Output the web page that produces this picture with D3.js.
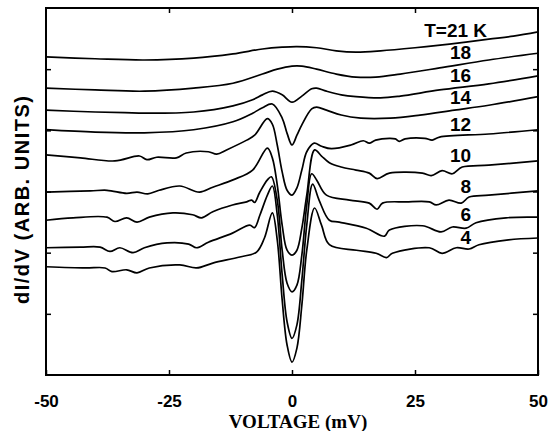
<!DOCTYPE html>
<html>
<head>
<meta charset="utf-8">
<style>
  body { margin: 0; background: #fff; }
  svg { display: block; }
  .tick text { font: bold 17px "Liberation Sans", Arial, sans-serif; fill: #000; }
  .tick line { stroke: #000; stroke-width: 1.5; }
</style>
</head>
<body>
<svg id="chart" width="558" height="431"></svg>
<script src="https://d3js.org/d3.v7.min.js"></script>
<script>
// dI/dV curves, [voltage (mV), dI/dV (arb. units, offset)]
const t21 = [[-50,5.20],[-40,5.17],[-30,5.15],[-20,5.18],[-12,5.25],[-6,5.33],[-2,5.36],[1,5.37],[5,5.35],[9,5.30],[13,5.28],[18,5.30],[25,5.35],[32,5.41],[40,5.49],[45,5.54],[50,5.61]]
const t18 = [[-50,4.69],[-40,4.66],[-30,4.64],[-20,4.69],[-12,4.77],[-6,4.92],[-3,5.00],[0,5.05],[2,5.05],[5,5.00],[9,4.92],[13,4.87],[17,4.87],[22,4.92],[30,5.02],[40,5.15],[50,5.26]]
const t16 = [[-50,4.33],[-40,4.30],[-34,4.29],[-30,4.28],[-20,4.30],[-12,4.40],[-8,4.50],[-6,4.58],[-4,4.64],[-2,4.58],[0,4.46],[2,4.56],[4,4.68],[5,4.69],[7,4.64],[10,4.58],[13,4.55],[18,4.53],[22,4.56],[30,4.66],[40,4.76],[50,4.89]]
const t14 = [[-50,4.01],[-40,3.97],[-30,3.96],[-20,4.01],[-12,4.14],[-8,4.28],[-6,4.37],[-4,4.43],[-2,4.20],[-1,3.95],[0,3.76],[1,3.92],[2,4.09],[4,4.35],[5,4.38],[7,4.33],[10,4.25],[14,4.20],[20,4.20],[26,4.25],[33,4.33],[40,4.41],[50,4.55]]
const t12 = [[-50,3.60],[-43,3.55],[-36,3.50],[-31,3.58],[-29.5,3.52],[-27.5,3.56],[-23.5,3.55],[-21.5,3.63],[-17,3.65],[-15.3,3.61],[-13.3,3.68],[-9.2,3.84],[-7.6,3.92],[-5,4.19],[-4,4.10],[-3,3.76],[-2,3.32],[-1,3.02],[0,2.94],[1,3.06],[2,3.35],[3,3.65],[4.5,3.79],[6,3.74],[8,3.70],[12,3.76],[14.5,3.83],[15.7,3.79],[17,3.84],[19.8,3.87],[21,3.86],[21.8,3.82],[23,3.86],[27,3.87],[28.5,3.84],[30,3.89],[40,3.94],[50,4.01]]
const t10 = [[-50,2.99],[-41,3.01],[-37.6,3.02],[-33.6,2.97],[-31.5,2.99],[-29.3,2.96],[-27,3.02],[-22.8,3.09],[-18.8,2.99],[-16.1,3.07],[-12,3.19],[-8,3.35],[-5,3.71],[-4,3.55],[-3,3.11],[-2,2.45],[-1,2.04],[0,1.96],[1,2.04],[2,2.40],[3,2.94],[4.6,3.68],[6,3.58],[7.6,3.47],[10,3.40],[13,3.35],[15.7,3.30],[17.3,3.21],[19.8,3.30],[26.5,3.30],[28.3,3.26],[30.5,3.34],[32.6,3.29],[34.6,3.40],[40,3.43],[50,3.50]]
const t8 = [[-50,2.53],[-44.5,2.57],[-37.6,2.58],[-36,2.51],[-33.6,2.57],[-31.5,2.50],[-29,2.58],[-24.2,2.65],[-20.2,2.62],[-18.4,2.57],[-16.1,2.67],[-12.1,2.78],[-9.2,2.83],[-8.2,2.86],[-7.6,2.82],[-6.6,2.98],[-5,3.19],[-4.2,3.24],[-3,2.86],[-2,2.04],[-1,1.50],[0,1.36],[1,1.47],[2,1.96],[3,2.78],[4,3.29],[5,3.19],[7,2.94],[11.7,2.86],[15.7,2.81],[17.3,2.71],[18.4,2.81],[23.2,2.83],[27.9,2.83],[29.3,2.78],[31.9,2.86],[34.4,2.81],[36,2.91],[40,2.94],[50,3.01]]
const t6 = [[-50,2.08],[-43,2.09],[-39,2.09],[-37,2.02],[-35,2.08],[-32.3,2.00],[-30,2.08],[-25.4,2.16],[-21,2.14],[-19.4,2.08],[-17,2.17],[-12.1,2.32],[-8.6,2.45],[-7.6,2.41],[-6.5,2.62],[-5,2.94],[-4,3.09],[-3,2.62],[-2,1.64],[-1,0.87],[0,0.60],[1,0.82],[2,1.55],[3,2.45],[4.2,3.12],[5.5,2.86],[7.6,2.53],[9.6,2.50],[15.1,2.40],[18.8,2.27],[19.8,2.37],[26.5,2.44],[30.3,2.34],[32.6,2.42],[35.4,2.40],[37.4,2.49],[43.5,2.57],[50,2.58]]
const t4 = [[-50,1.77],[-42,1.75],[-38,1.75],[-36.6,1.69],[-33.6,1.72],[-31.5,1.67],[-29,1.75],[-22.8,1.80],[-19.4,1.75],[-16.1,1.83],[-10.6,1.93],[-7.2,2.01],[-5.6,2.24],[-4,2.65],[-3,2.21],[-2,1.23],[-1,0.49],[0,0.21],[1,0.44],[2,1.14],[3,2.04],[4.6,2.73],[6,2.45],[7.6,2.13],[13.1,2.04],[17.1,1.99],[19.2,1.92],[20.4,1.99],[27.9,2.08],[30.5,1.99],[33.4,2.08],[36,2.06],[38,2.13],[44,2.21],[50,2.24]]

const series = [t21, t18, t16, t14, t12, t10, t8, t6, t4]
const curveLabels = ['T=21 K', '18', '16', '14', '12', '10', '8', '6', '4']
const xTicks = [-50, -25, 0, 25, 50]
const yTicks = [1, 2, 3, 4, 5]
const labelVoltage = 36.4

const svg = d3.select('#chart')
const m = { left: 46, right: 538, top: 8, bottom: 375 }

const x = d3.scaleLinear().domain([-50, 50]).range([m.left, m.right])
const y = d3.scaleLinear().domain([0, 6]).range([m.bottom, m.top])

// axes with inward ticks
svg.append('g')
  .attr('transform', `translate(0,${m.bottom})`)
  .call(d3.axisBottom(x).tickValues(xTicks).tickSizeInner(-5).tickSizeOuter(0)
    .tickPadding(20).tickFormat(d => String(d)))
  .call(g => g.select('.domain').remove())

svg.append('g')
  .attr('transform', `translate(0,${m.top})`)
  .call(d3.axisTop(x).tickValues([-25, 0, 25]).tickSizeInner(-5).tickSizeOuter(0).tickFormat(''))
  .call(g => g.select('.domain').remove())

svg.append('g')
  .attr('transform', `translate(${m.left},0)`)
  .call(d3.axisLeft(y).tickValues(yTicks).tickSizeInner(-5).tickSizeOuter(0).tickFormat(''))
  .call(g => g.select('.domain').remove())

svg.append('g')
  .attr('transform', `translate(${m.right},0)`)
  .call(d3.axisRight(y).tickValues(yTicks).tickSizeInner(-5).tickSizeOuter(0).tickFormat(''))
  .call(g => g.select('.domain').remove())

svg.append('rect')
  .attr('x', m.left).attr('y', m.top)
  .attr('width', m.right - m.left).attr('height', m.bottom - m.top)
  .attr('fill', 'none').attr('stroke', '#000').attr('stroke-width', 2)

const line = d3.line()
  .x(d => x(d[0]))
  .y(d => y(d[1]))
  .curve(d3.curveCatmullRom.alpha(0.5))

svg.append('g')
  .selectAll('path')
  .data(series)
  .join('path')
  .attr('d', line)
  .attr('fill', 'none')
  .attr('stroke', '#000')
  .attr('stroke-width', 1.7)
  .attr('stroke-linejoin', 'round')

// value of a curve at a given voltage
function valueAt(s, v) {
  for (let i = 1; i < s.length; i++) {
    if (s[i][0] >= v) {
      const t = (v - s[i - 1][0]) / (s[i][0] - s[i - 1][0])
      return s[i - 1][1] + t * (s[i][1] - s[i - 1][1])
    }
  }
  return s[s.length - 1][1]
}

svg.append('g')
  .selectAll('text')
  .data(series)
  .join('text')
  .attr('x', x(labelVoltage))
  .attr('y', d => y(valueAt(d, labelVoltage)) - 4)
  .attr('dx', (d, i) => i === 0 ? 16 : 0)
  .attr('text-anchor', 'end')
  .style('font', 'bold 19px "Liberation Sans", Arial, sans-serif')
  .text((d, i) => curveLabels[i])

svg.append('text')
  .attr('x', (m.left + m.right) / 2 + 6)
  .attr('y', 428)
  .attr('text-anchor', 'middle')
  .style('font', 'bold 19px "Liberation Serif", "Times New Roman", serif')
  .text('VOLTAGE (mV)')

svg.append('text')
  .attr('transform', 'translate(29,200) rotate(-90)')
  .attr('text-anchor', 'middle')
  .attr('textLength', 208)
  .attr('lengthAdjust', 'spacing')
  .style('font', 'bold 20px "Liberation Sans", Arial, sans-serif')
  .text('dI/dV  (ARB.  UNITS)')
</script>
</body>
</html>
